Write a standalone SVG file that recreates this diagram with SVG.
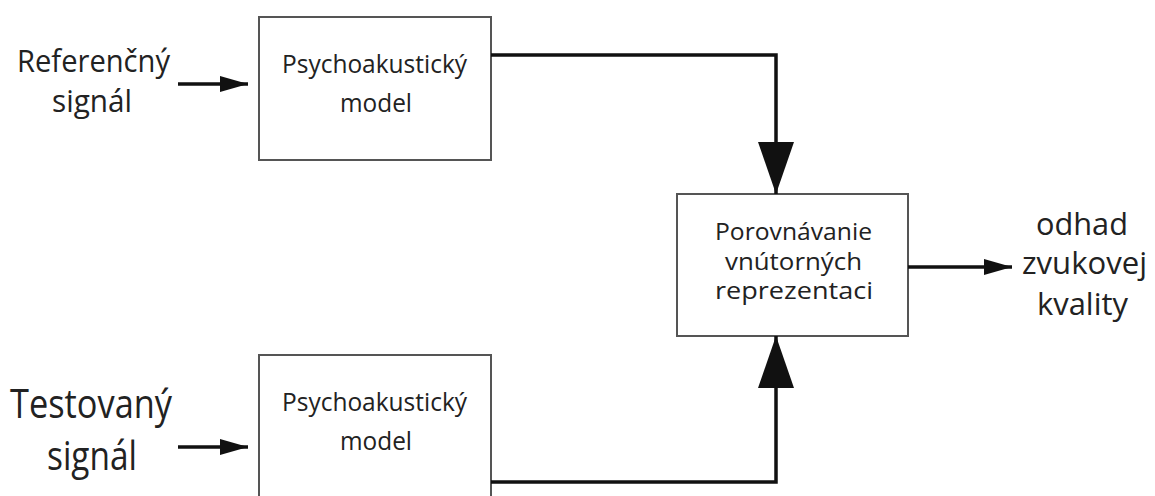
<svg xmlns="http://www.w3.org/2000/svg" width="1155" height="496" viewBox="0 0 1155 496">
<style>
.box{fill:#fff;stroke:#555;stroke-width:2}
.t{font-family:"Open Sans","Liberation Sans",sans-serif;fill:#222;text-anchor:middle}
.s{font-size:25px}
.m{font-size:23px}
.l{font-size:31px}
.xl{font-size:40px}
.c{fill:none;stroke:#111;stroke-width:3.5}
</style>
<defs>
<marker id="ah" markerUnits="userSpaceOnUse" markerWidth="30" markerHeight="20" refX="28" refY="10" orient="auto"><path d="M0,2 L28,10 L0,18 Z" fill="#111"/></marker>
<marker id="big" markerUnits="userSpaceOnUse" markerWidth="54" markerHeight="38" refX="52" refY="19" orient="auto"><path d="M0,1 L52,19 L0,37 Z" fill="#111"/></marker>
</defs>
<rect width="1155" height="496" fill="#fff"/>
<g id="ref-label"><text class="t l" x="93.5" y="72" textLength="153" lengthAdjust="spacingAndGlyphs">Referenčný</text><text class="t l" x="92" y="112" textLength="80" lengthAdjust="spacingAndGlyphs">signál</text></g>
<g id="test-label"><text class="t xl" x="91" y="418" textLength="162" lengthAdjust="spacingAndGlyphs">Testovaný</text><text class="t xl" x="92" y="470" textLength="90" lengthAdjust="spacingAndGlyphs">signál</text></g>
<g id="model1"><rect class="box" x="259" y="17" width="232" height="143"/><text class="t s" x="374.5" y="73" textLength="185" lengthAdjust="spacingAndGlyphs">Psychoakustický</text><text class="t s" x="376" y="112" textLength="72" lengthAdjust="spacingAndGlyphs">model</text></g>
<g id="model2"><rect class="box" x="259" y="355" width="232" height="160"/><text class="t s" x="374.5" y="411" textLength="185" lengthAdjust="spacingAndGlyphs">Psychoakustický</text><text class="t s" x="376" y="450" textLength="72" lengthAdjust="spacingAndGlyphs">model</text></g>
<g id="compare"><rect class="box" x="677" y="194" width="231" height="142"/><text class="t m" x="793.5" y="240" textLength="157" lengthAdjust="spacingAndGlyphs">Porovnávanie</text><text class="t m" x="793.5" y="270" textLength="137" lengthAdjust="spacingAndGlyphs">vnútorných</text><text class="t m" x="794" y="299" textLength="158" lengthAdjust="spacingAndGlyphs">reprezentaci</text></g>
<g id="out-label"><text class="t l" x="1082" y="235" textLength="92" lengthAdjust="spacingAndGlyphs">odhad</text><text class="t l" x="1084.5" y="274" textLength="125" lengthAdjust="spacingAndGlyphs">zvukovej</text><text class="t l" x="1082.5" y="315" textLength="91" lengthAdjust="spacingAndGlyphs">kvality</text></g>
<g id="connectors">
<line class="c" x1="178" y1="84" x2="248" y2="84" marker-end="url(#ah)"/>
<line class="c" x1="178" y1="447" x2="248" y2="447" marker-end="url(#ah)"/>
<polyline class="c" points="491,55 776,55 776,194" marker-end="url(#big)"/>
<polyline class="c" points="491,482 776,482 776,336" marker-end="url(#big)"/>
<line class="c" x1="908" y1="267" x2="1012" y2="267" marker-end="url(#ah)"/>
</g>
</svg>
